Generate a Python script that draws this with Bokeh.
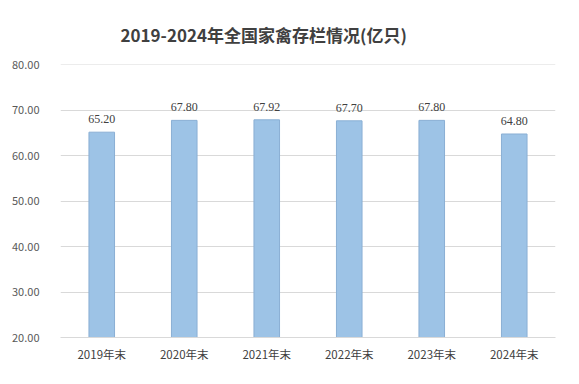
from bokeh.plotting import figure
from bokeh.models import ColumnDataSource, LabelSet, NumeralTickFormatter, FixedTicker, Range1d
from bokeh.embed import file_html
from bokeh.resources import INLINE

categories = ["2019年末", "2020年末", "2021年末", "2022年末", "2023年末", "2024年末"]
values = [65.20, 67.80, 67.92, 67.70, 67.80, 64.80]
y_ticks = [20, 30, 40, 50, 60, 70, 80]

src = ColumnDataSource(dict(cat=categories, val=values, lab=[f"{v:.2f}" for v in values]))

FONT = "Noto Sans CJK SC"
p = figure(x_range=categories, y_range=Range1d(20, 80.1), width=563, height=368,
           output_backend="svg", toolbar_location=None,
           min_border_left=60, min_border_right=8, min_border_top=64, min_border_bottom=31)

p.title.text = "2019-2024年全国家禽存栏情况(亿只)"
p.title.align = "left"
p.title.offset = 60
p.title.text_font = FONT
p.title.text_font_size = "17px"
p.title.text_font_style = "bold"
p.title.text_color = "#404040"
p.title.standoff = 34
p.title.vertical_align = "middle"

p.vbar(x="cat", top="val", bottom=20, width=0.31, source=src,
       fill_color="#9DC3E6", line_color="#8AAFD4", line_width=1)

labels = LabelSet(x="cat", y="val", text="lab", source=src, text_align="center",
                  text_baseline="bottom", y_offset=9, text_font=FONT,
                  text_font_size="12px", text_color="#404040")
p.add_layout(labels)

p.outline_line_color = None
p.xgrid.grid_line_color = None
p.ygrid.grid_line_color = "#D9D9D9"
p.yaxis.ticker = FixedTicker(ticks=y_ticks)
p.yaxis.formatter = NumeralTickFormatter(format="0.00")
p.yaxis.axis_line_color = None
p.yaxis.major_tick_line_color = None
p.yaxis.minor_tick_line_color = None
p.yaxis.major_label_text_font = FONT
p.yaxis.major_label_text_font_size = "11px"
p.yaxis.major_label_text_color = "#595959"
p.yaxis.major_label_standoff = 15

p.xaxis.axis_line_color = "#D9D9D9"
p.xaxis.major_tick_line_color = None
p.xaxis.minor_tick_line_color = None
p.xaxis.major_label_text_font = FONT
p.xaxis.major_label_text_font_size = "11.5px"
p.xaxis.major_label_text_color = "#404040"
p.xaxis.major_label_standoff = 2
p.x_range.range_padding = 0

open("out.html", "w").write(file_html(p, INLINE))
